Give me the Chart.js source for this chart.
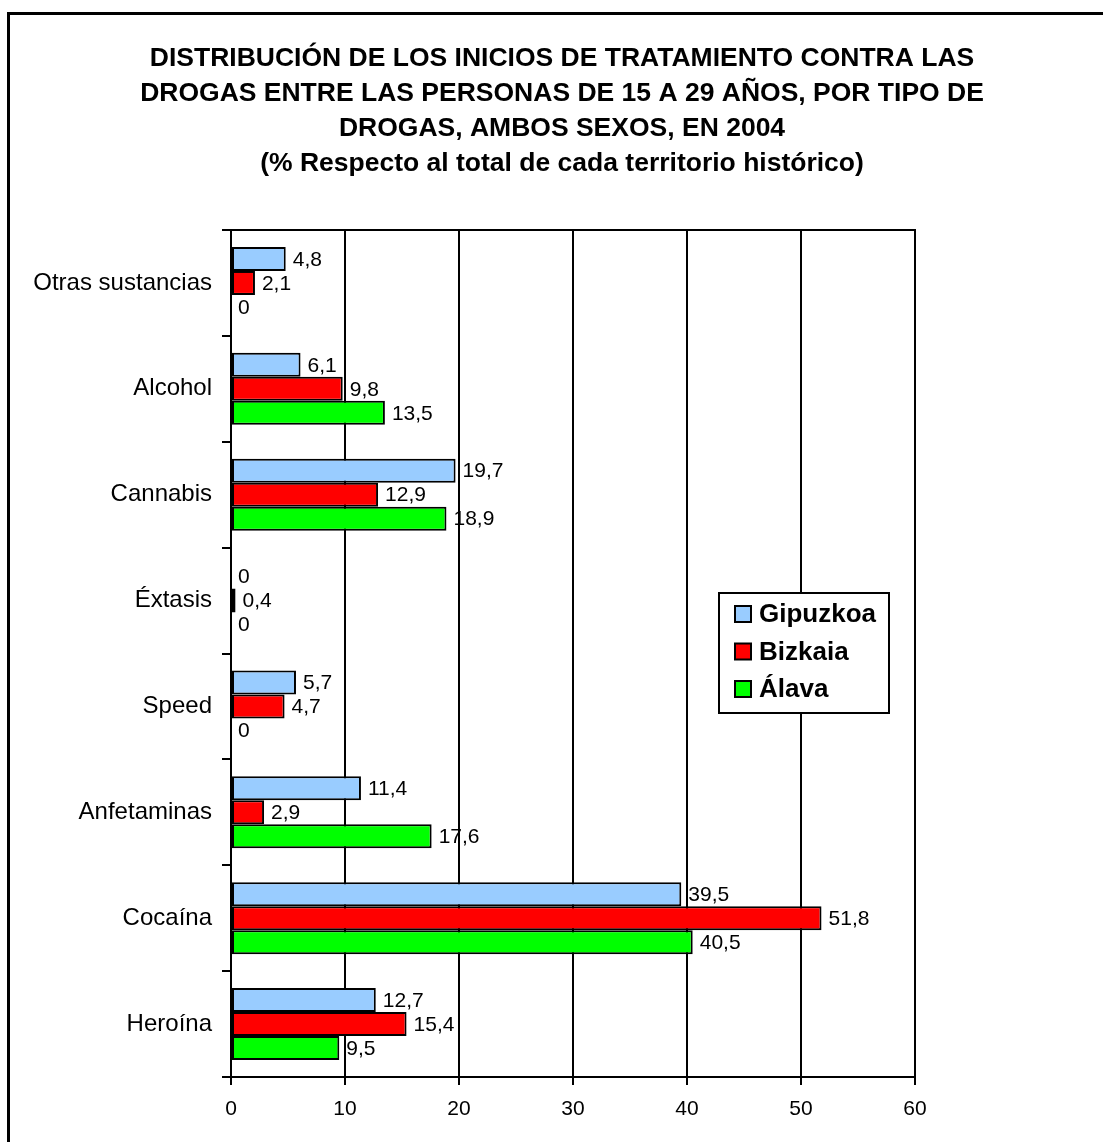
<!DOCTYPE html>
<html lang="es">
<head>
<meta charset="utf-8">
<title>Inicios de tratamiento por tipo de droga, 2004</title>
<script src="https://cdn.jsdelivr.net/npm/chart.js@4.4.1/dist/chart.umd.min.js"></script>
<style>
  html, body { margin: 0; padding: 0; background: #fff; overflow: hidden; }
  #marco { position: absolute; left: 7px; top: 12px; width: 1300px; height: 1300px; border-left: 3px solid #000; border-top: 3px solid #000; }
  #grafico { position: absolute; left: 0; top: 0; }
</style>
</head>
<body>
<div id="marco"></div>
<canvas id="grafico" width="1103" height="1142"></canvas>
<script>
const tituloLineas = [
    'DISTRIBUCIÓN DE LOS INICIOS DE TRATAMIENTO CONTRA LAS',
    'DROGAS ENTRE LAS PERSONAS DE 15 A 29 AÑOS, POR TIPO DE',
    'DROGAS, AMBOS SEXOS, EN 2004',
    '(% Respecto al total de cada territorio histórico)'
];
const drogas = ['Otras sustancias', 'Alcohol', 'Cannabis', 'Éxtasis', 'Speed', 'Anfetaminas', 'Cocaína', 'Heroína'];
const territorios = ['Gipuzkoa', 'Bizkaia', 'Álava'];
const gipuzkoa = [4.8, 6.1, 19.7, 0, 5.7, 11.4, 39.5, 12.7];
const bizkaia = [2.1, 9.8, 12.9, 0.4, 4.7, 2.9, 51.8, 15.4];
const alava = [0, 13.5, 18.9, 0, 0, 17.6, 40.5, 9.5];
const ejeMin = 0;
const ejeMax = 60;
const ejePaso = 10;

const fuente = '"Liberation Sans", Arial, sans-serif';
const colores = ['#99ccff', '#ff0000', '#00ff00'];

// título en cuatro líneas centrado sobre el marco
const tituloPlugin = {
    id: 'titulo',
    beforeDraw(chart) {
        const ctx = chart.ctx;
        ctx.save();
        ctx.fillStyle = '#000';
        ctx.font = 'bold 26.5px ' + fuente;
        ctx.textAlign = 'center';
        ctx.textBaseline = 'middle';
        tituloLineas.forEach((linea, i) => ctx.fillText(linea, 562, 59 + i * 35));
        ctx.restore();
    }
};

// borde superior del área de trazado
const marcoPlugin = {
    id: 'marcoArea',
    afterDraw(chart) {
        const { ctx, chartArea: a } = chart;
        ctx.save();
        ctx.strokeStyle = '#000';
        ctx.lineWidth = 2;
        ctx.beginPath();
        ctx.moveTo(a.left - 1, a.top);
        ctx.lineTo(a.right + 1, a.top);
        ctx.stroke();
        ctx.restore();
    }
};

// valores al final de cada barra, con coma decimal
const etiquetasPlugin = {
    id: 'etiquetas',
    afterDatasetsDraw(chart) {
        const ctx = chart.ctx;
        ctx.save();
        ctx.fillStyle = '#000';
        ctx.font = '21px ' + fuente;
        ctx.textAlign = 'left';
        ctx.textBaseline = 'middle';
        chart.data.datasets.forEach((ds, i) => {
            chart.getDatasetMeta(i).data.forEach((bar, j) => {
                const txt = String(ds.data[j]).replace('.', ',');
                ctx.fillText(txt, bar.x + 7, bar.y + 1);
            });
        });
        ctx.restore();
    }
};

// leyenda dentro del área de trazado
const leyendaPlugin = {
    id: 'leyendaCaja',
    afterDraw(chart) {
        const ctx = chart.ctx;
        const x = 719, y = 593, w = 170, h = 120;
        ctx.save();
        ctx.fillStyle = '#fff';
        ctx.fillRect(x, y, w, h);
        ctx.strokeStyle = '#000';
        ctx.lineWidth = 2;
        ctx.strokeRect(x, y, w, h);
        ctx.font = 'bold 26px ' + fuente;
        ctx.textAlign = 'left';
        ctx.textBaseline = 'middle';
        chart.data.datasets.forEach((ds, i) => {
            const cy = y + 21 + i * 37.5;
            ctx.fillStyle = ds.backgroundColor;
            ctx.fillRect(x + 16, cy - 8, 16, 16);
            ctx.strokeRect(x + 16, cy - 8, 16, 16);
            ctx.fillStyle = '#000';
            ctx.fillText(ds.label, x + 40, cy + 1);
        });
        ctx.restore();
    }
};

new Chart(document.getElementById('grafico'), {
    type: 'bar',
    data: {
        labels: drogas,
        datasets: [
            { label: territorios[0], data: gipuzkoa, backgroundColor: colores[0] },
            { label: territorios[1], data: bizkaia, backgroundColor: colores[1] },
            { label: territorios[2], data: alava, backgroundColor: colores[2] }
        ]
    },
    options: {
        indexAxis: 'y',
        responsive: false,
        animation: false,
        layout: { padding: { top: 230, right: 188, left: 0, bottom: 0 } },
        datasets: {
            bar: {
                categoryPercentage: 0.68,
                barPercentage: 1,
                borderColor: '#000',
                borderWidth: 2,
                borderSkipped: false
            }
        },
        scales: {
            x: {
                min: ejeMin,
                max: ejeMax,
                ticks: { stepSize: ejePaso, color: '#000', font: { family: fuente, size: 21 }, padding: 12 },
                grid: { color: '#000', lineWidth: 2, tickLength: 8 },
                border: { color: '#000', width: 2 },
                afterFit: s => { s.height = 65; }
            },
            y: {
                ticks: { color: '#000', font: { family: fuente, size: 24 }, padding: 10 },
                grid: { drawOnChartArea: false, color: '#000', lineWidth: 2, tickLength: 9 },
                border: { color: '#000', width: 2 },
                afterFit: s => { s.width = 231; }
            }
        },
        plugins: {
            legend: { display: false },
            title: { display: false },
            tooltip: { enabled: false }
        }
    },
    plugins: [tituloPlugin, marcoPlugin, etiquetasPlugin, leyendaPlugin]
});
</script>
</body>
</html>
